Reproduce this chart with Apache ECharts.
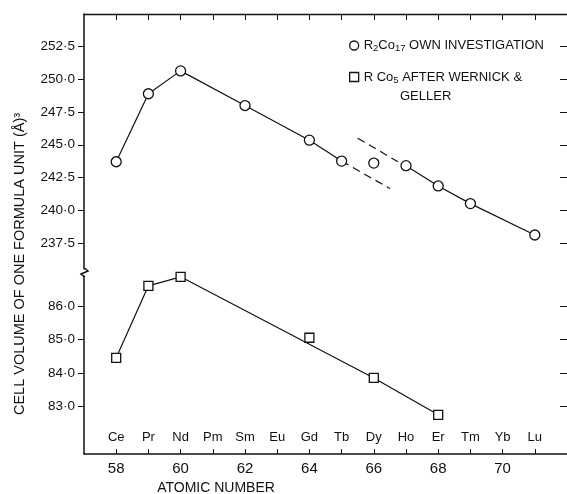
<!DOCTYPE html>
<html>
<head>
<meta charset="utf-8">
<script src="https://cdn.jsdelivr.net/npm/echarts@6/dist/echarts.min.js"></script>
<style>html,body{margin:0;padding:0;background:#fff;}#c{width:567px;height:494px;}</style>
</head>
<body>
<div id="c"></div>
<script>
// ---- data ----
const elements = ['Ce','Pr','Nd','Pm','Sm','Eu','Gd','Tb','Dy','Ho','Er','Tm','Yb','Lu'];
const atomicNumbers = [58,59,60,61,62,63,64,65,66,67,68,69,70,71];
const xLabelValues = [58,60,62,64,66,68,70];

// R2Co17 (own investigation)
const r2co17Z_a = [58,59,60,62,64,65];
const r2co17V_a = [243.7,248.9,250.65,248.0,245.35,243.75];
const r2co17Z_dy = [66];
const r2co17V_dy = [243.6];
const r2co17Z_b = [67,68,69,71];
const r2co17V_b = [243.4,241.85,240.5,238.1];
// dashed extrapolations around Dy
const dashLowZ = [65,66.5];
const dashLowV = [243.75,241.65];
const dashHighZ = [65.5,66.75];
const dashHighV = [245.5,243.7];

// RCo5 (after Wernick & Geller)
const rco5LineZ = [58,59,60,66,68];
const rco5LineV = [84.45,86.6,86.87,83.85,82.75];
const rco5GdZ = [64];
const rco5GdV = [85.05];

const upperTicks = [237.5,240,242.5,245,247.5,250,252.5];
const lowerTicks = [83,84,85,86];

const S1 = 'R2Co17 OWN INVESTIGATION';
const S2 = 'R Co5 AFTER WERNICK & GELLER';

// ---- chart ----
const FONT = 'Liberation Sans, Arial, sans-serif';
const INK = '#111';
const pair = (zs, vs) => zs.map((z, i) => [z, vs[i]]);
const fmtDot = v => v.toFixed(1).replace('.', '\u00B7');

const circleStyle = {color:'#fff', borderColor:INK, borderWidth:1.3, opacity:1};
const rectStyle = {color:'#fff', borderColor:INK, borderWidth:1.3, opacity:1};

const chart = echarts.init(document.getElementById('c'), null, {renderer:'canvas'});
const grids = [
  {left:84, right:-1, top:14, height:255},        // upper: 255 .. 235.5
  {left:84, right:-1, top:276, height:178},       // lower
  {left:84, right:-1, top:276, height:178}        // element-name labels
];
const commonX = {type:'value', min:57, max:72, splitLine:{show:false}};
const option = {
  animation:false,
  backgroundColor:'#fff',
  textStyle:{fontFamily:FONT, color:INK},
  grid:grids,
  xAxis:[
    Object.assign({}, commonX, {gridIndex:0, position:'top',
      axisLine:{show:true, lineStyle:{color:INK, width:1.3}},
      axisTick:{show:true, inside:true, length:6, customValues:atomicNumbers, lineStyle:{color:INK}},
      axisLabel:{show:false}}),
    Object.assign({}, commonX, {gridIndex:1, position:'bottom',
      axisLine:{show:true, lineStyle:{color:INK, width:1.5}},
      axisTick:{show:true, inside:true, length:5, customValues:atomicNumbers, lineStyle:{color:INK}},
      axisLabel:{show:true, margin:7, fontSize:15, color:INK, fontFamily:FONT, customValues:xLabelValues,
        formatter: v => String(v)}}),
    Object.assign({}, commonX, {gridIndex:2, position:'bottom',
      axisLine:{show:false}, axisTick:{show:false},
      axisLabel:{show:true, inside:true, margin:10, fontSize:13, color:INK, fontFamily:FONT,
        customValues:atomicNumbers,
        formatter: v => elements[atomicNumbers.indexOf(Math.round(v))] || ''}})
  ],
  yAxis:[
    {type:'value', gridIndex:0, position:'left', min:235.5, max:255, splitLine:{show:false},
      axisLine:{show:true, onZero:false, lineStyle:{color:INK, width:1.5}},
      axisTick:{show:true, inside:false, length:6, customValues:upperTicks, lineStyle:{color:INK}},
      axisLabel:{show:true, margin:9, fontSize:13.5, color:INK, fontFamily:FONT, customValues:upperTicks, formatter:fmtDot}},
    {type:'value', gridIndex:0, position:'right', min:235.5, max:255, splitLine:{show:false},
      axisLine:{show:false},
      axisTick:{show:true, inside:true, length:7, customValues:upperTicks, lineStyle:{color:INK}},
      axisLabel:{show:false}},
    {type:'value', gridIndex:1, position:'left', min:81.58, max:86.894, splitLine:{show:false},
      axisLine:{show:true, onZero:false, lineStyle:{color:INK, width:1.5}},
      axisTick:{show:true, inside:false, length:6, customValues:lowerTicks, lineStyle:{color:INK}},
      axisLabel:{show:true, margin:9, fontSize:13.5, color:INK, fontFamily:FONT, customValues:lowerTicks, formatter:fmtDot}},
    {type:'value', gridIndex:1, position:'right', min:81.58, max:86.894, splitLine:{show:false},
      axisLine:{show:false},
      axisTick:{show:true, inside:true, length:7, customValues:lowerTicks, lineStyle:{color:INK}},
      axisLabel:{show:false}},
    {type:'value', gridIndex:2, min:0, max:1, show:false}
  ],
  legend:{
    orient:'vertical', left:344, top:34, itemGap:17, itemWidth:9, itemHeight:9,
    textStyle:{fontFamily:FONT, fontSize:13, color:INK,
      rich:{sub:{fontFamily:FONT, fontSize:9.5, color:INK, padding:[6,0,0,0]}}},
    formatter: name => name === S1 ? 'R{sub|2}Co{sub|17} OWN INVESTIGATION' : 'R Co{sub|5} AFTER WERNICK &',
    data:[
      {name:S1, icon:'circle', itemStyle:circleStyle},
      {name:S2, icon:'rect', itemStyle:rectStyle}
    ]
  },
  series:[
    {name:'extrapolation', type:'line', xAxisIndex:0, yAxisIndex:0, symbol:'none', z:1,
      lineStyle:{color:INK, width:1.2, type:[8,5]}, data:pair(dashLowZ, dashLowV)},
    {name:'extrapolation2', type:'line', xAxisIndex:0, yAxisIndex:0, symbol:'none', z:1,
      lineStyle:{color:INK, width:1.2, type:[8,5]}, data:pair(dashHighZ, dashHighV)},
    {name:S1, type:'line', xAxisIndex:0, yAxisIndex:0, symbol:'circle', symbolSize:10, z:3,
      itemStyle:circleStyle, lineStyle:{color:INK, width:1.2}, data:pair(r2co17Z_a, r2co17V_a)},
    {name:S1, type:'line', xAxisIndex:0, yAxisIndex:0, symbol:'circle', symbolSize:10, z:3,
      itemStyle:circleStyle, lineStyle:{color:INK, width:1.2}, data:pair(r2co17Z_b, r2co17V_b)},
    {name:S1, type:'scatter', xAxisIndex:0, yAxisIndex:0, symbol:'circle', symbolSize:10, z:3,
      itemStyle:circleStyle, data:pair(r2co17Z_dy, r2co17V_dy)},
    {name:S2, type:'line', xAxisIndex:1, yAxisIndex:2, symbol:'rect', symbolSize:9, z:3,
      itemStyle:rectStyle, lineStyle:{color:INK, width:1.2}, data:pair(rco5LineZ, rco5LineV)},
    {name:S2, type:'scatter', xAxisIndex:1, yAxisIndex:2, symbol:'rect', symbolSize:9, z:3,
      itemStyle:rectStyle, data:pair(rco5GdZ, rco5GdV)}
  ],
  graphic:[
    {type:'text', x:400, y:96, style:{text:'GELLER', font:'13px ' + FONT, fill:INK, align:'left', verticalAlign:'middle'}},
    {type:'text', x:216, y:488, style:{text:'ATOMIC NUMBER', font:'14px ' + FONT, fill:INK, align:'center', verticalAlign:'middle'}},
    {type:'text', x:20, y:264, rotation:Math.PI/2,
      style:{text:'CELL VOLUME OF ONE FORMULA UNIT (\u00C5)\u00B3', font:'14.5px ' + FONT, fill:INK, align:'center', verticalAlign:'middle'}},
    {type:'polyline', shape:{points:[[84.5,268],[88,271],[81,274],[84.5,277]]}, style:{stroke:INK, lineWidth:1.5, fill:null}}
  ]
};
chart.setOption(option);
</script>
</body>
</html>
